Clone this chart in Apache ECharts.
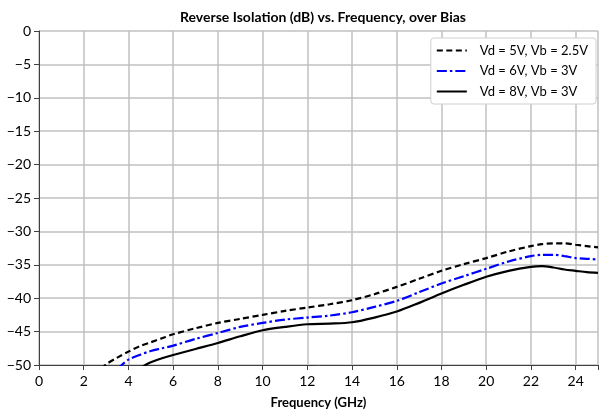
<!DOCTYPE html>
<html><head><meta charset="utf-8">
<script src="https://cdn.jsdelivr.net/npm/echarts@6/dist/echarts.min.js"></script>
<style>html,body{margin:0;padding:0;background:#fff}#c{width:601px;height:414px}</style>
</head><body><div id="c"></div>
<script>
const seriesNames = ['Vd = 5V, Vb = 2.5V', 'Vd = 6V, Vb = 3V', 'Vd = 8V, Vb = 3V'];
const freq5 = [2.8,3,3.5,4,4.5,5,5.5,6,7,8,9,10,11,12,13,14,15,16,17,18,19,20,21,22,22.5,23,23.5,24,24.5,25];
const iso5  = [-50.6,-49.9,-48.9,-48.0,-47.2,-46.6,-46.0,-45.4,-44.5,-43.7,-43.1,-42.5,-41.9,-41.4,-40.9,-40.3,-39.4,-38.3,-37.1,-35.9,-34.9,-34.0,-33.0,-32.2,-31.9,-31.8,-31.8,-32.0,-32.2,-32.4];
const freq6 = [3.5,3.7,4,4.5,5,5.5,6,7,8,9,10,11,12,13,14,15,16,17,18,19,20,21,22,22.5,23,23.5,24,24.5,25];
const iso6  = [-50.6,-50.0,-49.2,-48.5,-47.9,-47.5,-47.1,-46.1,-45.2,-44.3,-43.7,-43.2,-42.9,-42.6,-42.1,-41.3,-40.4,-39.1,-37.8,-36.7,-35.6,-34.5,-33.7,-33.5,-33.5,-33.7,-34.0,-34.1,-34.2];
const freq8 = [4.5,4.76,5,5.5,6,7,8,9,10,11,12,13,14,15,16,17,18,19,20,21,22,22.5,23,23.5,24,24.5,25];
const iso8  = [-50.6,-50.0,-49.6,-49.0,-48.5,-47.6,-46.7,-45.7,-44.8,-44.3,-43.9,-43.8,-43.6,-42.9,-42.0,-40.7,-39.3,-38.0,-36.8,-35.9,-35.3,-35.2,-35.4,-35.7,-35.9,-36.1,-36.2];
const xTicks = [0,2,4,6,8,10,12,14,16,18,20,22,24];
const yTicks = [0,-5,-10,-15,-20,-25,-30,-35,-40,-45,-50];

const pair = (xs, ys) => xs.map((x, i) => [x, ys[i]]);
const FONT = 'Lato';
const chart = echarts.init(document.getElementById('c'), null, {renderer: 'canvas'});
chart.setOption({
  animation: false,
  backgroundColor: '#fff',
  title: {
    text: 'Reverse Isolation (dB) vs. Frequency, over Bias',
    left: 318, top: 5, textAlign: 'center',
    textStyle: {fontFamily: FONT, fontSize: 14, fontWeight: 'bold', color: '#000'}
  },
  grid: {left: 39, top: 31, width: 565, height: 338, containLabel: false},
  legend: {
    orient: 'vertical', right: 5, top: 38, align: 'left',
    padding: [6, 8, 6, 5], itemGap: 7.5, itemWidth: 30, itemHeight: 14,
    borderColor: '#d0d0d0', borderWidth: 1, borderRadius: 3, backgroundColor: '#fff',
    itemStyle: {opacity: 0},
    textStyle: {fontFamily: FONT, fontSize: 13, color: '#000', padding: [0, 0, 0, 8]},
    data: seriesNames
  },
  xAxis: {
    type: 'value', min: 0, max: 25, interval: 2,
    name: 'Frequency (GHz)', nameLocation: 'middle', nameGap: 31,
    nameTextStyle: {fontFamily: FONT, fontSize: 13, fontWeight: 'bold', color: '#000'},
    axisLine: {show: true, onZero: false, lineStyle: {color: '#404040', width: 1}},
    axisTick: {show: true, length: 5, lineStyle: {color: '#404040'}},
    axisLabel: {fontFamily: FONT, fontSize: 14, color: '#000', margin: 9,
      formatter: v => xTicks.includes(v) ? String(v) : ''},
    splitLine: {show: true, lineStyle: {color: '#c0c0c0', width: 1.5}}
  },
  yAxis: {
    type: 'value', min: -50, max: 0, interval: 5,
    axisLine: {show: true, onZero: false, lineStyle: {color: '#404040', width: 1}},
    axisTick: {show: true, length: 5, lineStyle: {color: '#404040'}},
    axisLabel: {fontFamily: FONT, fontSize: 14, color: '#000', margin: 8,
      formatter: v => yTicks.includes(v) ? String(v).replace('-', '\u2212') : ''},
    splitLine: {show: true, lineStyle: {color: '#c0c0c0', width: 1.5}}
  },
  series: [
    {name: seriesNames[0], type: 'line', data: pair(freq5, iso5), smooth: 0.3, symbol: 'none', clip: true,
     lineStyle: {color: '#000', width: 2.2, type: [6, 3.5]}, itemStyle: {color: '#000'}},
    {name: seriesNames[1], type: 'line', data: pair(freq6, iso6), smooth: 0.3, symbol: 'none', clip: true,
     lineStyle: {color: '#0000ff', width: 2.2, type: [10, 3, 2.5, 3]}, itemStyle: {color: '#0000ff'}},
    {name: seriesNames[2], type: 'line', data: pair(freq8, iso8), smooth: 0.3, symbol: 'none', clip: true,
     lineStyle: {color: '#000', width: 2.2, type: 'solid'}, itemStyle: {color: '#000'}}
  ]
});
</script></body></html>
